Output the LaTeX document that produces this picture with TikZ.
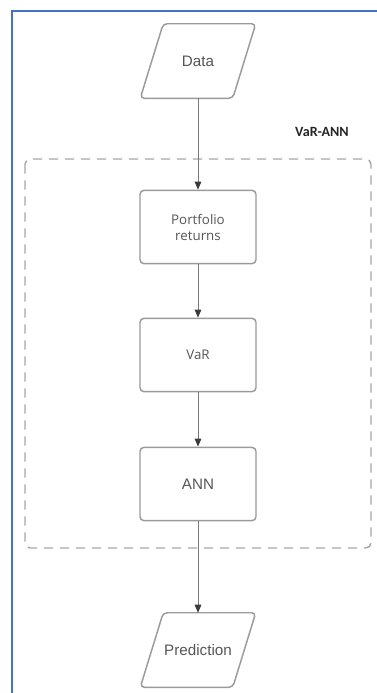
\documentclass[tikz,border=0pt]{standalone}
\usepackage{fontspec}
\setmainfont{Liberation Sans}
\newfontfamily\opensans{Open Sans}
\newfontfamily\carlito{Carlito}
\usetikzlibrary{positioning, arrows.meta, shapes.geometric}
\definecolor{Frame}{HTML}{4472C4}
\definecolor{Edge}{HTML}{9A9A9A}
\definecolor{Dash}{HTML}{A6A6A6}
\definecolor{Ink}{HTML}{555555}
\definecolor{Wire}{HTML}{777777}
\definecolor{Tip}{HTML}{3C3C3C}
\tikzset{
    stepbox/.style={rectangle, rounded corners=3pt, draw=Edge, line width=1.1pt, minimum width=87pt, minimum height=55pt, text=Ink, align=center, font=\opensans\fontsize{10pt}{12pt}\selectfont},
    iobox/.style={rectangle, minimum width=69pt, minimum height=55.5pt, inner sep=0pt, text=Ink, font=\fontsize{11.4pt}{13pt}\selectfont},
    ioline/.style={draw=Edge, line width=1.1pt, rounded corners=3pt},
    flow/.style={-{Triangle[length=6pt, width=5pt, color=Tip]}, line width=0.7pt, color=Wire},
}
\begin{document}
\begin{tikzpicture}[x=0.75pt, y=-0.75pt]
    \useasboundingbox (0,0) rectangle (377,693);
    \clip (0,0) rectangle (377,693);
    % outer frame
    \draw[Frame, line width=1.6pt] (12,720) -- (12,11) -- (400,11);
    % group
    \draw[Dash, line width=1.1pt, dash pattern=on 7pt off 5pt, rounded corners=4pt] (25,159) rectangle (371,548);
    \node[font=\carlito\bfseries\fontsize{10.6pt}{12pt}\selectfont, text=black!85] (grp) at (322,132) {VaR-ANN};
    % steps
    \node[iobox] (data) at (198,61) {Data};
    \node[stepbox] (ret) at (198,227) {Portfolio\\returns};
    \node[stepbox] (var) at (198,355) {VaR};
    \node[stepbox, font=\fontsize{11.4pt}{13pt}\selectfont] (ann) at (198,484) {ANN};
    \node[iobox] (pred) at (198,650) {Prediction};
    % slanted outlines
    \foreach \io in {data, pred}
        \draw[ioline] ([xshift=-8.6pt]\io.south west) -- ([xshift=8.6pt]\io.north west) -- ([xshift=8.6pt]\io.north east) -- ([xshift=-8.6pt]\io.south east) -- cycle;
    \draw[flow] (data) -- (ret);
    \draw[flow] (ret) -- (var);
    \draw[flow] (var) -- (ann);
    \draw[flow] (ann) -- (pred);
\end{tikzpicture}
\end{document}
